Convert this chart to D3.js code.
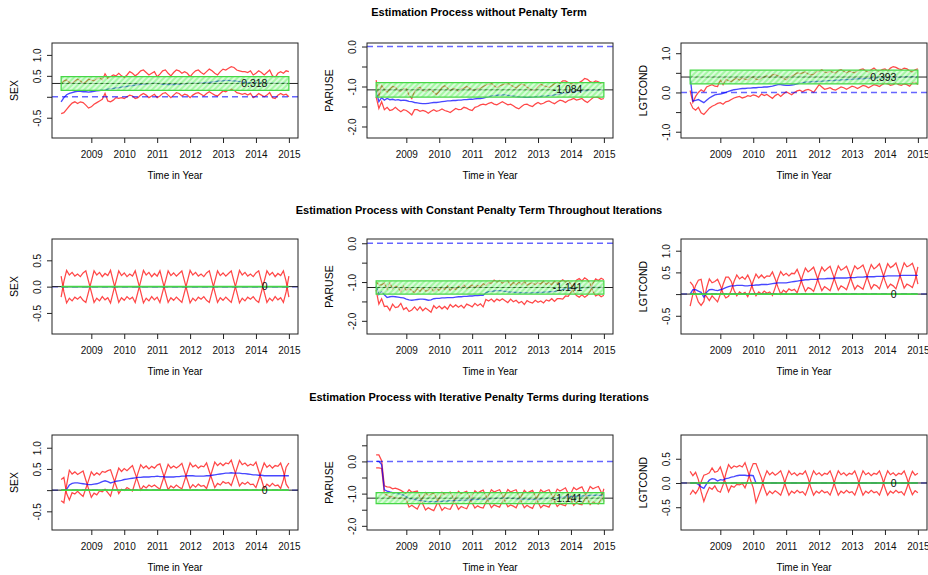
<!DOCTYPE html>
<html>
<head>
<meta charset="utf-8">
<script src="https://cdn.jsdelivr.net/npm/d3@7"></script>
<style>
body { margin: 0; background: #fff; }
text { font-family: "Liberation Sans", Arial, sans-serif; }
</style>
</head>
<body>
<script>
// monthly time points, Feb 2008 .. Jan 2015
var firstYear = 2008, monthCount = 84;
var timeYears = d3.range(monthCount).map((i) => firstYear + (i + 1) / 12);
var tickYears = [2009, 2010, 2011, 2012, 2013, 2014, 2015];

var rowTitles = [
  "Estimation Process without Penalty Term",
  "Estimation Process with Constant Penalty Term Throughout Iterations",
  "Estimation Process with Iterative Penalty Terms during Iterations",
];

// ---- row 1: without penalty (blue estimate, red upper / lower) ----
var sexEst1 = [-0.12,-0.02,0.05,0.08,0.1,0.12,0.13,0.13,0.12,0.12,0.11,0.12,
  0.13,0.14,0.15,0.16,0.17,0.18,0.19,0.2,0.21,0.22,0.23,0.24,
  0.25,0.26,0.27,0.28,0.29,0.3,0.3,0.31,0.31,0.32,0.32,0.32,
  0.31,0.3,0.3,0.29,0.29,0.29,0.3,0.3,0.31,0.31,0.32,0.32,
  0.32,0.32,0.32,0.33,0.33,0.34,0.34,0.35,0.36,0.37,0.38,0.38,
  0.39,0.39,0.38,0.38,0.37,0.36,0.35,0.34,0.34,0.33,0.33,0.33,
  0.33,0.33,0.32,0.32,0.32,0.32,0.32,0.32,0.32,0.32,0.32,0.32];
var sexUp1 = [0.32,0.38,0.4,0.34,0.32,0.38,0.42,0.38,0.32,0.36,0.42,0.4,
  0.38,0.42,0.46,0.4,0.55,0.44,0.48,0.52,0.5,0.56,0.5,0.46,
  0.52,0.6,0.56,0.5,0.55,0.62,0.64,0.58,0.52,0.56,0.6,0.48,
  0.54,0.62,0.64,0.56,0.5,0.58,0.64,0.62,0.56,0.6,0.56,0.48,
  0.56,0.62,0.64,0.58,0.54,0.6,0.66,0.62,0.56,0.52,0.6,0.66,
  0.64,0.68,0.72,0.7,0.64,0.62,0.6,0.6,0.58,0.62,0.52,0.56,
  0.62,0.58,0.52,0.58,0.64,0.5,0.46,0.56,0.6,0.56,0.62,0.6];
var sexLo1 = [-0.4,-0.38,-0.3,-0.22,-0.15,-0.12,-0.16,-0.12,-0.14,-0.2,-0.27,-0.24,
  -0.18,-0.14,-0.1,-0.06,0.08,-0.1,-0.12,-0.08,-0.02,-0.04,-0.02,-0.04,
  0.0,0.04,0.02,-0.04,-0.02,0.04,0.08,0.04,-0.02,0.02,0.06,-0.02,
  0.02,0.08,0.1,0.04,-0.02,0.04,0.1,0.08,0.02,0.06,0.04,-0.02,
  0.04,0.08,0.1,0.06,0.02,0.08,0.12,0.08,0.04,0.02,0.08,0.14,
  0.12,0.16,0.18,0.16,0.1,0.08,0.06,0.08,0.04,0.08,-0.02,0.02,
  0.08,0.04,0.0,0.04,0.1,-0.02,-0.04,0.04,0.08,0.04,0.06,0.0];

var paruseEst1 = [-1.1,-1.38,-1.28,-1.34,-1.3,-1.33,-1.32,-1.34,-1.33,-1.35,-1.34,-1.35,
  -1.37,-1.38,-1.4,-1.41,-1.42,-1.43,-1.43,-1.42,-1.41,-1.4,-1.4,-1.39,
  -1.38,-1.37,-1.36,-1.36,-1.35,-1.35,-1.34,-1.34,-1.33,-1.33,-1.32,-1.32,
  -1.31,-1.3,-1.3,-1.29,-1.27,-1.25,-1.24,-1.23,-1.22,-1.22,-1.21,-1.21,
  -1.22,-1.23,-1.24,-1.25,-1.26,-1.26,-1.27,-1.27,-1.27,-1.26,-1.26,-1.25,
  -1.25,-1.24,-1.24,-1.23,-1.22,-1.21,-1.2,-1.18,-1.17,-1.16,-1.15,-1.14,
  -1.13,-1.12,-1.12,-1.11,-1.1,-1.1,-1.09,-1.09,-1.09,-1.08,-1.08,-1.08];
var paruseUp1 = [-0.84,-1.25,-0.97,-1.08,-1.14,-1.06,-1.0,-1.02,-1.1,-1.12,-1.06,-1.05,
  -1.22,-1.3,-1.12,-1.04,-1.02,-1.1,-1.12,-1.06,-1.08,-1.14,-1.2,-1.12,
  -1.02,-0.98,-1.04,-1.1,-1.06,-1.06,-1.12,-1.06,-1.04,-1.0,-1.04,-1.08,
  -1.1,-1.06,-1.04,-1.0,-0.97,-0.94,-0.92,-0.98,-1.03,-0.98,-0.96,-0.94,
  -0.92,-0.96,-1.0,-1.04,-0.98,-0.94,-0.96,-1.02,-1.06,-1.1,-1.08,-1.0,
  -0.94,-0.98,-1.0,-1.02,-0.98,-0.93,-0.9,-0.92,-0.86,-0.86,-0.9,-0.93,
  -0.94,-0.9,-0.9,-0.86,-0.8,-0.82,-0.88,-0.9,-0.86,-0.88,-0.92,-0.9];
var paruseLo1 = [-1.26,-1.55,-1.38,-1.58,-1.52,-1.6,-1.58,-1.52,-1.58,-1.63,-1.58,-1.6,
  -1.65,-1.71,-1.58,-1.58,-1.62,-1.6,-1.62,-1.67,-1.62,-1.58,-1.62,-1.6,
  -1.56,-1.6,-1.62,-1.65,-1.6,-1.55,-1.58,-1.57,-1.52,-1.54,-1.58,-1.6,
  -1.52,-1.5,-1.46,-1.44,-1.46,-1.42,-1.4,-1.44,-1.46,-1.42,-1.38,-1.42,
  -1.46,-1.44,-1.48,-1.53,-1.56,-1.5,-1.45,-1.44,-1.48,-1.5,-1.44,-1.4,
  -1.44,-1.42,-1.38,-1.36,-1.4,-1.43,-1.38,-1.34,-1.36,-1.4,-1.35,-1.33,
  -1.3,-1.34,-1.32,-1.3,-1.36,-1.4,-1.34,-1.28,-1.26,-1.28,-1.32,-1.3];

var lgtEst1 = [0.4,-0.22,-0.2,-0.18,-0.22,-0.26,-0.2,-0.14,-0.1,-0.06,-0.05,-0.04,
  -0.02,0,0.03,0.05,0.07,0.08,0.09,0.1,0.1,0.11,0.11,0.12,
  0.12,0.13,0.13,0.14,0.14,0.15,0.16,0.18,0.2,0.2,0.19,0.18,
  0.18,0.19,0.2,0.22,0.24,0.25,0.26,0.27,0.27,0.28,0.28,0.28,
  0.29,0.29,0.3,0.3,0.3,0.31,0.31,0.32,0.32,0.33,0.33,0.34,
  0.34,0.35,0.35,0.35,0.36,0.36,0.37,0.37,0.37,0.38,0.38,0.38,
  0.38,0.39,0.39,0.39,0.39,0.39,0.4,0.4,0.4,0.4,0.4,0.4];
var lgtUp1 = [0.05,-0.25,-0.1,0.0,0.07,0.02,0.14,0.17,0.2,0.16,0.15,0.32,
  0.2,0.34,0.3,0.28,0.33,0.36,0.31,0.37,0.34,0.32,0.38,0.4,
  0.34,0.32,0.37,0.4,0.42,0.38,0.45,0.46,0.42,0.4,0.36,0.32,
  0.38,0.42,0.45,0.5,0.48,0.5,0.52,0.47,0.45,0.46,0.52,0.54,
  0.58,0.52,0.5,0.55,0.51,0.5,0.56,0.58,0.54,0.5,0.55,0.52,
  0.5,0.54,0.58,0.6,0.55,0.52,0.58,0.62,0.56,0.54,0.58,0.6,
  0.55,0.62,0.66,0.64,0.6,0.58,0.62,0.6,0.55,0.52,0.58,0.6];
var lgtLo1 = [-0.25,-0.4,-0.45,-0.38,-0.52,-0.56,-0.48,-0.4,-0.35,-0.32,-0.28,-0.26,
  -0.3,-0.24,-0.22,-0.18,-0.14,-0.12,-0.1,-0.14,-0.12,-0.08,-0.1,-0.06,
  -0.08,-0.12,-0.04,-0.08,-0.05,-0.1,-0.15,-0.08,-0.04,-0.1,-0.04,0.02,
  -0.02,-0.06,0.0,0.04,0.06,0.02,0.06,0.08,0.05,0.0,0.1,0.2,
  0.14,0.08,0.1,0.12,0.08,0.06,0.1,0.14,0.12,0.08,0.12,0.16,
  0.14,0.1,0.14,0.18,0.16,0.12,0.16,0.2,0.18,0.15,0.2,0.24,
  0.22,0.18,0.2,0.24,0.2,0.18,0.22,0.2,0.16,0.24,0.26,0.2];

// ---- rows 2 and 3: red bounds sit at estimate +/- a signed half width ----
var sexEst2 = [0,0,0,0,0,0,0,0,0,0,0,0,0,0,0,0,0,0,0,0,0,0,0,0,0,0,0,0,
  0,0,0,0,0,0,0,0,0,0,0,0,0,0,0,0,0,0,0,0,0,0,0,0,0,0,0,0,
  0,0,0,0,0,0,0,0,0,0,0,0,0,0,0,0,0,0,0,0,0,0,0,0,0,0,0,0];
var sexHalf2 = [0.2,
  -0.1,-0.31,-0.22,-0.27,-0.2,-0.24,-0.19,-0.26,-0.3,-0.1,
  0.1,0.3,0.22,0.27,0.19,0.25,0.21,0.31,0.1,
  -0.1,-0.3,-0.21,-0.26,-0.19,-0.24,-0.2,-0.3,-0.1,
  0.1,0.31,0.22,0.27,0.19,0.25,0.2,0.3,0.1,
  -0.1,-0.3,-0.21,-0.26,-0.2,-0.25,-0.3,-0.1,
  0.1,0.31,0.22,0.27,0.2,0.24,0.19,0.26,0.3,0.1,
  -0.1,-0.3,-0.21,-0.26,-0.2,-0.25,-0.3,-0.1,
  0.1,0.31,0.22,0.27,0.2,0.24,0.19,0.26,0.3,0.1,
  -0.1,-0.3,-0.22,-0.27,-0.19,-0.25,-0.21,-0.3,-0.1,
  0.2];

var paruseEst2 = [-1.1,-1.32,-1.25,-1.33,-1.4,-1.38,-1.37,-1.38,-1.39,-1.4,-1.41,-1.44,
  -1.46,-1.47,-1.46,-1.45,-1.44,-1.44,-1.45,-1.47,-1.46,-1.43,-1.42,-1.42,
  -1.41,-1.41,-1.4,-1.4,-1.4,-1.39,-1.38,-1.38,-1.37,-1.37,-1.36,-1.36,
  -1.35,-1.35,-1.34,-1.34,-1.27,-1.25,-1.24,-1.23,-1.22,-1.22,-1.23,-1.24,
  -1.25,-1.26,-1.26,-1.27,-1.27,-1.28,-1.28,-1.28,-1.28,-1.28,-1.27,-1.27,
  -1.27,-1.26,-1.26,-1.25,-1.25,-1.24,-1.23,-1.21,-1.19,-1.18,-1.17,-1.16,
  -1.16,-1.15,-1.15,-1.15,-1.14,-1.14,-1.14,-1.14,-1.14,-1.14,-1.14,-1.14];
var paruseHalf2 = [0.1,0.25,0.18,0.3,0.22,0.35,0.2,0.28,0.25,0.15,0.3,0.22,
  0.3,0.25,0.18,0.28,0.2,0.3,0.22,0.25,0.32,0.18,0.26,0.2,
  0.28,0.22,0.3,0.18,0.25,0.2,0.27,0.22,0.3,0.2,0.24,0.28,
  0.2,0.26,0.22,0.3,0.18,0.24,0.2,0.28,0.22,0.26,0.2,0.24,
  0.28,0.18,0.25,0.2,0.27,0.22,0.3,0.2,0.24,0.26,0.2,0.25,
  0.22,0.28,0.2,0.24,0.18,0.26,0.2,0.22,0.25,0.18,0.2,0.1,
  -0.1,-0.2,-0.24,-0.18,-0.25,-0.2,-0.1,0.1,0.22,0.18,0.24,0.2];

var lgtEst2 = [0.0,0.1,0.1,0.07,0.04,-0.07,0.04,0.1,0.11,0.09,0.08,0.1,
  0.12,0.15,0.17,0.19,0.19,0.2,0.2,0.2,0.19,0.19,0.2,0.2,
  0.21,0.21,0.22,0.22,0.22,0.23,0.24,0.25,0.26,0.26,0.26,0.26,
  0.27,0.28,0.29,0.3,0.31,0.32,0.33,0.33,0.34,0.34,0.34,0.35,
  0.35,0.35,0.36,0.36,0.36,0.37,0.37,0.37,0.37,0.37,0.38,0.38,
  0.38,0.39,0.39,0.39,0.4,0.4,0.4,0.4,0.41,0.41,0.41,0.41,
  0.42,0.42,0.42,0.42,0.42,0.43,0.43,0.43,0.43,0.43,0.43,0.43];
var lgtHalf2 = [0.28,0.1,
  -0.1,-0.25,-0.3,-0.1,
  0.1,0.25,0.15,0.2,0.26,0.1,
  -0.1,-0.24,-0.22,-0.1,
  0.1,0.24,0.15,0.2,0.15,0.25,0.1,
  -0.1,-0.25,-0.16,-0.22,-0.15,-0.2,-0.18,-0.27,-0.1,
  0.1,0.26,0.17,0.22,0.15,0.2,0.18,0.27,0.1,
  -0.1,-0.27,-0.18,-0.22,-0.28,-0.1,
  0.1,0.27,0.18,0.23,0.28,0.1,
  -0.1,-0.28,-0.18,-0.22,-0.27,-0.1,
  0.1,0.27,0.19,0.23,0.28,0.1,
  -0.1,-0.28,-0.18,-0.22,-0.29,-0.1,
  0.1,0.28,0.19,0.23,0.3,0.1,
  -0.1,-0.29,-0.2,-0.23,-0.28,-0.1,
  0.2];

var sexEst3 = [0.0,0.0,0.02,0.12,0.16,0.17,0.17,0.16,0.15,0.14,0.13,0.13,
  0.14,0.15,0.17,0.2,0.22,0.2,0.17,0.19,0.21,0.22,0.23,0.25,
  0.26,0.27,0.28,0.29,0.3,0.3,0.31,0.31,0.31,0.32,0.32,0.33,
  0.32,0.32,0.31,0.31,0.31,0.31,0.32,0.32,0.33,0.33,0.34,0.34,
  0.34,0.33,0.33,0.33,0.33,0.34,0.34,0.35,0.36,0.37,0.38,0.39,
  0.4,0.4,0.41,0.4,0.4,0.4,0.39,0.39,0.38,0.37,0.36,0.36,
  0.35,0.35,0.34,0.34,0.34,0.34,0.34,0.34,0.34,0.34,0.34,0.34];
var sexHalf3 = [0.25,0.3,
  -0.1,-0.35,-0.22,-0.26,-0.2,-0.25,-0.3,-0.1,
  0.1,0.3,0.21,0.26,0.19,0.24,0.2,0.26,0.31,0.1,
  -0.1,-0.3,-0.21,-0.26,-0.2,-0.25,-0.3,-0.1,
  0.1,0.3,0.21,0.26,0.19,0.24,0.2,0.26,0.3,0.1,
  -0.1,-0.3,-0.21,-0.26,-0.2,-0.25,-0.3,-0.1,
  0.1,0.3,0.21,0.26,0.19,0.24,0.22,0.3,0.1,
  -0.1,-0.3,-0.21,-0.26,-0.19,-0.24,-0.22,-0.3,-0.1,
  0.1,0.3,0.21,0.25,0.19,0.24,0.22,0.3,0.1,
  -0.1,-0.3,-0.2,-0.25,-0.18,-0.24,-0.22,-0.3,-0.1,
  0.2,0.3];

var paruseEst3 = [0.0,0.0,-0.1,-0.88,-0.92,-0.95,-0.97,-0.99,-1.0,-1.02,-1.05,-1.1,
  -1.15,-1.16,-1.18,-1.2,-1.21,-1.22,-1.24,-1.25,-1.25,-1.25,-1.25,-1.24,
  -1.24,-1.23,-1.23,-1.22,-1.22,-1.21,-1.21,-1.2,-1.2,-1.2,-1.19,-1.19,
  -1.18,-1.18,-1.18,-1.17,-1.17,-1.16,-1.16,-1.15,-1.15,-1.15,-1.14,-1.14,
  -1.14,-1.15,-1.15,-1.16,-1.16,-1.17,-1.17,-1.17,-1.18,-1.18,-1.17,-1.17,
  -1.16,-1.16,-1.15,-1.15,-1.14,-1.14,-1.13,-1.12,-1.11,-1.1,-1.1,-1.09,
  -1.09,-1.08,-1.08,-1.07,-1.07,-1.06,-1.06,-1.05,-1.05,-1.05,-1.05,-1.05];
var paruseHalf3 = [0.2,0.2,0.12,0.12,0.13,0.15,0.12,0.16,0.14,0.12,0.1,
  0.1,0.27,0.2,0.24,0.28,0.1,
  -0.1,-0.27,-0.19,-0.24,-0.28,-0.1,
  0.1,0.28,0.2,0.24,0.27,0.1,
  -0.1,-0.28,-0.2,-0.24,-0.27,-0.1,
  0.1,0.27,0.2,0.25,0.28,0.1,
  -0.1,-0.28,-0.2,-0.24,-0.27,-0.1,
  0.1,0.27,0.2,0.24,0.28,0.1,
  -0.1,-0.27,-0.19,-0.24,-0.28,-0.1,
  0.1,0.28,0.2,0.24,0.27,0.1,
  -0.1,-0.27,-0.2,-0.24,-0.28,-0.1,
  0.1,0.28,0.2,0.25,0.28,0.1,
  -0.1,-0.28,-0.2,-0.24,-0.27,-0.1,
  0.2];

var lgtEst3 = [0,0,0,-0.03,-0.08,-0.11,-0.02,0.06,0.09,0.08,0.04,0.07,
  0.06,0.09,0.1,0.12,0.13,0.15,0.16,0.16,0.16,0.15,0.16,0.15,
  0,0,0,0,0,0,0,0,0,0,0,0,0,0,0,0,0,0,0,0,0,0,0,0,
  0,0,0,0,0,0,0,0,0,0,0,0,0,0,0,0,0,0,0,0,0,0,0,0,
  0,0,0,0,0,0,0,0,0,0,0,0];
var lgtHalf3 = [0.24,0.15,0.22,0.1,
  -0.1,-0.27,-0.2,-0.15,-0.22,-0.14,-0.2,-0.26,-0.1,
  0.1,0.28,0.18,0.22,0.18,0.2,0.17,0.26,0.1,
  -0.1,-0.25,-0.4,-0.25,-0.1,
  0.1,0.25,0.17,0.22,0.16,0.2,0.25,0.1,
  -0.1,-0.25,-0.17,-0.21,-0.15,-0.2,-0.18,-0.25,-0.1,
  0.1,0.25,0.17,0.21,0.15,0.2,0.18,0.25,0.1,
  -0.1,-0.25,-0.17,-0.21,-0.15,-0.2,-0.18,-0.25,-0.1,
  0.1,0.25,0.17,0.21,0.15,0.2,0.18,0.25,0.1,
  -0.1,-0.25,-0.17,-0.21,-0.15,-0.2,-0.18,-0.25,-0.1,
  0.1,0.24,0.16,0.2];

// final estimates (black line + label) and the green band half widths
var finalValues = [[0.318, -1.084, 0.393], [0, -1.141, 0], [0, -1.141, 0]];
var finalLabels = [["0.318", "-1.084", "0.393"], ["0", "-1.141", "0"], ["0", "-1.141", "0"]];
var bandHalf = [[0.165, 0.18, 0.175], [0, 0.17, 0], [0, 0.17, 0]];
var varNames = ["SEX", "PARUSE", "LGTCOND"];

// ---- layout ----
var svgWidth = 928, svgHeight = 575;
var colLeft = [52, 367, 681], boxW = 246;
var rowTop = [43, 239, 435], boxH = 95;
var titleY = [16, 214, 401], titleX = 479;
var xDomain = [2007.806, 2015.277];

var panels = [
  { row: 0, col: 0, est: sexEst1, up: sexUp1, lo: sexLo1, yDomain: [-0.984, 1.284], yTicks: [-0.5, 0, 0.5, 1], yShown: [-0.5, 0.5, 1] },
  { row: 0, col: 1, est: paruseEst1, up: paruseUp1, lo: paruseLo1, yDomain: [-2.288, 0.088], yTicks: [-2, -1.5, -1, -0.5, 0], yShown: [-2, -1, 0] },
  { row: 0, col: 2, est: lgtEst1, up: lgtUp1, lo: lgtLo1, yDomain: [-1.16, 1.26], yTicks: [-1, -0.5, 0, 0.5, 1], yShown: [-1, 0, 1] },
  { row: 1, col: 0, est: sexEst2, half: sexHalf2, yDomain: [-0.9, 0.905], yTicks: [-0.5, 0, 0.5], yShown: [-0.5, 0, 0.5] },
  { row: 1, col: 1, est: paruseEst2, half: paruseHalf2, yDomain: [-2.34, 0.11], yTicks: [-2, -1.5, -1, -0.5, 0], yShown: [-2, -1, 0] },
  { row: 1, col: 2, est: lgtEst2, half: lgtHalf2, yDomain: [-0.92, 1.27], yTicks: [-0.5, 0, 0.5, 1], yShown: [-0.5, 0.5, 1] },
  { row: 2, col: 0, est: sexEst3, half: sexHalf3, yDomain: [-0.94, 1.3], yTicks: [-0.5, 0, 0.5, 1], yShown: [-0.5, 0.5, 1] },
  { row: 2, col: 1, est: paruseEst3, half: paruseHalf3, yDomain: [-2.13, 0.82], yTicks: [-2, -1.5, -1, -0.5, 0, 0.5], yShown: [-2, -1, 0] },
  { row: 2, col: 2, est: lgtEst3, half: lgtHalf3, yDomain: [-0.97, 0.99], yTicks: [-0.5, 0, 0.5], yShown: [-0.5, 0, 0.5] },
];

var svg = d3.select("body").append("svg")
  .attr("width", svgWidth)
  .attr("height", svgHeight);

// diagonal white hatching for the green band
var defs = svg.append("defs");
var hatch = defs.append("pattern")
  .attr("id", "hatch")
  .attr("patternUnits", "userSpaceOnUse")
  .attr("width", 4)
  .attr("height", 4)
  .attr("patternTransform", "rotate(45)");
hatch.append("line")
  .attr("x1", 1).attr("y1", 0).attr("x2", 1).attr("y2", 4)
  .attr("stroke", "#fff")
  .attr("stroke-opacity", 0.85)
  .attr("stroke-width", 1.4);

rowTitles.forEach(function (t, r) {
  svg.append("text")
    .attr("x", titleX)
    .attr("y", titleY[r])
    .attr("text-anchor", "middle")
    .attr("font-size", "11px")
    .attr("font-weight", "bold")
    .text(t);
});

panels.forEach(function (p, k) {
  var left = colLeft[p.col], top = rowTop[p.row];
  var value = finalValues[p.row][p.col];
  var half = bandHalf[p.row][p.col];

  var x = d3.scaleLinear().domain(xDomain).range([left, left + boxW]);
  var y = d3.scaleLinear().domain(p.yDomain).range([top + boxH, top]);

  var up = p.up || p.est.map((e, i) => e + p.half[i]);
  var lo = p.lo || p.est.map((e, i) => e - p.half[i]);

  var g = svg.append("g");

  defs.append("clipPath")
    .attr("id", "clip" + k)
    .append("rect")
    .attr("x", left).attr("y", top)
    .attr("width", boxW).attr("height", boxH);

  var inner = g.append("g").attr("clip-path", `url(#clip${k})`);

  var line = d3.line()
    .x((d, i) => x(timeYears[i]))
    .y((d) => y(d));

  [up, lo].forEach(function (s) {
    inner.append("path")
      .datum(s)
      .attr("d", line)
      .attr("fill", "none")
      .attr("stroke", "rgba(255,0,0,0.72)")
      .attr("stroke-width", 1.25);
  });

  inner.append("path")
    .datum(p.est)
    .attr("d", line)
    .attr("fill", "none")
    .attr("stroke", "rgba(0,0,255,0.72)")
    .attr("stroke-width", 1.35);

  // zero reference
  inner.append("line")
    .attr("x1", left).attr("x2", left + boxW)
    .attr("y1", y(0)).attr("y2", y(0))
    .attr("stroke", "rgba(0,0,255,0.6)")
    .attr("stroke-width", 1.5)
    .attr("stroke-dasharray", "6,4");

  // final estimate
  inner.append("line")
    .attr("x1", left).attr("x2", left + boxW)
    .attr("y1", y(value)).attr("y2", y(value))
    .attr("stroke", "#222")
    .attr("stroke-width", 1);

  // green band
  var bx0 = x(timeYears[0]), bx1 = x(timeYears[monthCount - 1]);
  var by0 = y(value + half), by1 = y(value - half);
  var bandPath = `M${bx0},${by0}H${bx1}V${by1}H${bx0}Z`;
  if (half > 0) {
    inner.append("path").attr("d", bandPath)
      .attr("fill", "rgba(40,235,40,0.42)")
      .attr("stroke", "none");
    inner.append("path").attr("d", bandPath)
      .attr("fill", "url(#hatch)")
      .attr("stroke", "none");
  }
  inner.append("path").attr("d", bandPath)
    .attr("fill", "none")
    .attr("stroke", "rgb(70,215,70)")
    .attr("stroke-width", half > 0 ? 1.2 : 1.6);

  g.append("text")
    .attr("x", x(2014.35))
    .attr("y", y(value) + 3.6)
    .attr("text-anchor", "end")
    .attr("font-size", "10.5px")
    .attr("fill", "#111")
    .text(finalLabels[p.row][p.col]);

  // box
  g.append("rect")
    .attr("x", left).attr("y", top)
    .attr("width", boxW).attr("height", boxH)
    .attr("fill", "none")
    .attr("stroke", "#222")
    .attr("stroke-width", 1);

  // x axis
  var xAxis = g.append("g")
    .attr("transform", `translate(0, ${top + boxH})`)
    .call(d3.axisBottom(x).tickValues(tickYears).tickSize(5).tickPadding(8).tickFormat(d3.format("d")));
  xAxis.select(".domain").remove();
  xAxis.selectAll("line").attr("stroke", "#222");
  xAxis.selectAll("text")
    .attr("font-size", "10px")
    .attr("font-family", "Liberation Sans, Arial, sans-serif")
    .attr("fill", "#111");

  // y axis with labels turned like R
  var yAxis = g.append("g")
    .attr("transform", `translate(${left}, 0)`)
    .call(d3.axisLeft(y).tickValues(p.yTicks).tickSize(5)
      .tickFormat((d) => (p.yShown.indexOf(d) >= 0 ? d.toFixed(1) : "")));
  yAxis.select(".domain").remove();
  yAxis.selectAll("line").attr("stroke", "#222");
  yAxis.selectAll("text")
    .attr("x", 0)
    .attr("dy", 0)
    .attr("transform", "translate(-11,0) rotate(-90)")
    .attr("text-anchor", "middle")
    .attr("font-size", "10px")
    .attr("font-family", "Liberation Sans, Arial, sans-serif")
    .attr("fill", "#111");

  g.append("text")
    .attr("x", left + boxW / 2)
    .attr("y", top + boxH + 41)
    .attr("text-anchor", "middle")
    .attr("font-size", "10px")
    .text("Time in Year");

  g.append("text")
    .attr("transform", `translate(${left - 34}, ${top + boxH / 2}) rotate(-90)`)
    .attr("text-anchor", "middle")
    .attr("font-size", "10.5px")
    .text(varNames[p.col]);
});
</script>
</body>
</html>
